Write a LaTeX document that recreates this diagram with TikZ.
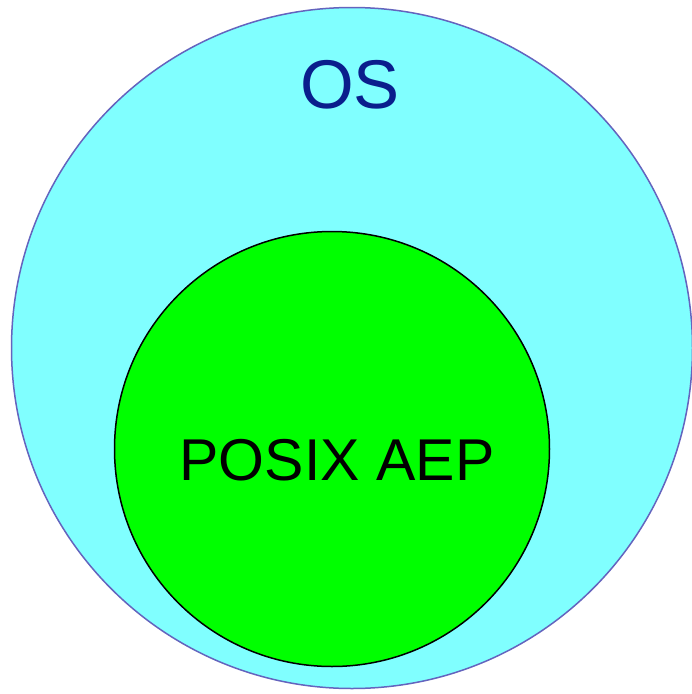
\documentclass[tikz,border=0pt]{standalone}
\usepackage{fontspec}
\setmainfont{Liberation Sans}
\definecolor{oscyan}{RGB}{128,255,255}
\definecolor{osline}{RGB}{100,100,190}
\definecolor{osnavy}{RGB}{10,30,140}
\definecolor{aepgreen}{RGB}{0,255,0}
\begin{document}
\begin{tikzpicture}[x=1pt, y=-1pt]
        \useasboundingbox (0, 0) rectangle (692, 694);
        \fill[white] (0, 0) rectangle (692, 694);

        \node[circle, draw=osline, line width=1.5pt, fill=oscyan, inner sep=0pt, minimum size=681pt] (os) at(352, 348){};
        \node[circle, draw=black, line width=1.5pt, fill=aepgreen, inner sep=0pt, minimum size=435pt] (aep) at(332, 449){};

        \node[text=osnavy, font=\fontsize{69}{69}\selectfont] (oslabel) at(350, 85){OS};
        \node[font=\fontsize{59}{59}\selectfont] (aeplabel) at(337, 460){POSIX AEP};
    \end{tikzpicture}
\end{document}
